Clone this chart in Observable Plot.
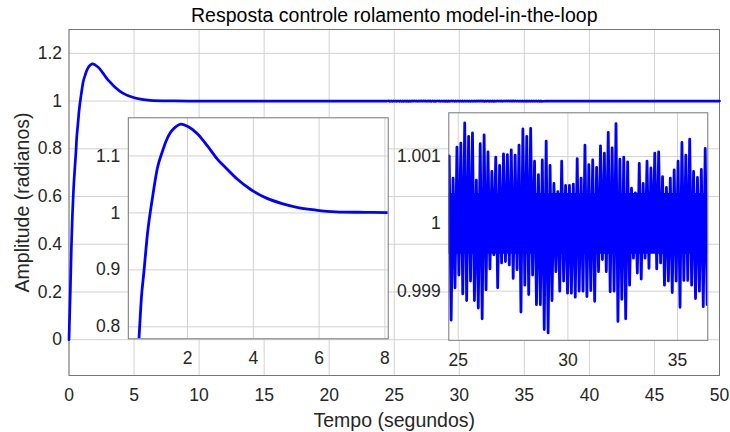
<!DOCTYPE html>
<html>
<head>
<meta charset="utf-8">
<script src="https://cdn.jsdelivr.net/npm/d3@7"></script>
<script src="https://cdn.jsdelivr.net/npm/@observablehq/plot@0.6"></script>
<style>
  html, body { margin: 0; padding: 0; background: #fff; }
  #fig { position: relative; width: 730px; height: 432px; overflow: hidden; background: #fff; }
  #fig svg { position: absolute; left: 0; top: 0; }
</style>
</head>
<body>
<div id="fig"></div>
<script>
// ---- Data -------------------------------------------------------------
// Roll-angle step response (seconds, radians): transient part
const stepT = [0, 0.05, 0.1, 0.18, 0.26, 0.34, 0.45, 0.524, 0.598, 0.677, 0.78, 0.933,
  1.085, 1.238, 1.34, 1.49, 1.64, 1.8, 2.0, 2.3, 2.6, 2.9, 3.2, 3.5, 3.9, 4.4, 4.9,
  5.4, 5.9, 6.5, 7.4, 8.1, 10, 15, 20, 24.4];
const stepY = [0, 0.1, 0.2, 0.38, 0.52, 0.62, 0.72, 0.779, 0.851, 0.898, 0.962, 1.026,
  1.079, 1.108, 1.125, 1.142, 1.151, 1.156, 1.152, 1.139, 1.118, 1.095, 1.077, 1.06, 1.042, 1.026, 1.016,
  1.009, 1.005, 1.002, 1.001, 1.0005, 1, 1, 1, 1];

// Steady-state ripple around 1 rad (peaks and troughs, in units of 1e-4 rad)
const rippleStart = 24.588;   // time of the first peak (s)
const ripplePeriod = 0.17688; // spacing between consecutive peaks (s)
const rippleHigh = [
  10.1, 6.8, 11.4, 12.0, 15.0, 13.0, 13.5, 6.5, 11.9, 13.2, 10.7, 7.8, 9.9, 8.7, 10.4, 10.3, 11.0,
  10.2, 11.7, 14.1, 13.0, 14.2, 9.3, 7.3, 9.5, 12.3, 8.7, 6.0, 4.8, 9.3, 5.7, 5.7, 5.9, 9.7,
  6.8, 11.7, 8.8, 9.5, 8.4, 11.6, 10.5, 13.6, 11.3, 14.9, 9.6, 9.9, 9.2, 5.3, 4.6, 9.0, 6.0,
  9.3, 8.3, 10.5, 10.7, 7.0, 5.4, 6.8, 8.0, 9.3, 12.1, 10.2, 12.6, 7.8, 6.9, 8.1, 11.2];
const rippleLow = [
  -14.3, -9.5, -7.6, -10.4, -11.4, -8.5, -11.4, -12.5, -14.1, -9.8, -6.7, -4.6, -9.5, -5.8, -5.6, -6.1,
  -8.1, -6.8, -13.1, -9.1, -10.5, -7.6, -12.0, -12.0, -15.7, -16.2, -11.4, -7.1, -10.0, -8.5, -10.3, -10.3, -10.9,
  -10.0, -10.0, -10.8, -9.9, -11.5, -7.1, -5.3, -7.1, -10.1, -10.0, -14.5, -11.2, -14.1, -9.1, -5.1, -7.3, -8.2,
  -5.1, -6.6, -3.4, -6.7, -5.8, -9.1, -8.5, -10.2, -8.5, -12.4, -8.4, -8.4, -9.1, -11.1, -10.0, -12.3, -12.0];

// Dense core of the ripple, where the fast oscillation fills the band (1e-4 rad)
const coreT = [24.5, 36.4];
const coreHigh = [4.5, 4.5];
const coreLow = [-4.5, -4.5];

// Tail after the ripple window
const tailT = [36.6, 40, 45, 50];
const tailY = [1, 1, 1, 1];

// Tick values
const mainXTicks = [0, 5, 10, 15, 20, 25, 30, 35, 40, 45, 50];
const mainYTicks = [0, 0.2, 0.4, 0.6, 0.8, 1, 1.2];
const zoomAXTicks = [2, 4, 6, 8];
const zoomAYTicks = [0.8, 0.9, 1, 1.1];
const zoomBXTicks = [25, 30, 35];
const zoomBYTicks = [0.999, 1, 1.001];

// Text
const titleText = "Resposta controle rolamento model-in-the-loop";
const xLabelText = "Tempo (segundos)";
const yLabelText = "Amplitude (radianos)";

// ---- Build series -----------------------------------------------------
const transient = stepT.map((t, i) => ({t, v: stepY[i]}));
const ripple = rippleHigh.flatMap((h, k) => [
  {t: rippleStart + k * ripplePeriod, v: 1 + h * 1e-4},
  {t: rippleStart + (k + 0.5) * ripplePeriod, v: 1 + rippleLow[k] * 1e-4}
]);
const tail = tailT.map((t, i) => ({t, v: tailY[i]}));
const response = [...transient, ...ripple, ...tail];
const core = coreT.map((t, i) => ({t, lo: 1 + coreLow[i] * 1e-4, hi: 1 + coreHigh[i] * 1e-4}));

// ---- Style ------------------------------------------------------------
const FONT = "'Liberation Sans', Arial, Helvetica, sans-serif";
const BLUE = "#0000ff";
const GRID = "#d2d2d2";
const BOX = "#767676";
const INK = "#262626";
const fmt = d3.format("~g");
const W = 730, H = 432;

const fig = document.getElementById("fig");

// ---- Main axes --------------------------------------------------------
const main = Plot.plot({
  width: W, height: H,
  marginLeft: 68.5, marginRight: 11, marginTop: 29, marginBottom: 57,
  x: {domain: [0, 50], label: null},
  y: {domain: [-0.15, 1.3], label: null},
  style: {fontFamily: FONT, fontSize: "17.5px", color: INK, background: "white", overflow: "visible"},
  marks: [
    Plot.gridX(mainXTicks, {stroke: GRID, strokeOpacity: 1}),
    Plot.gridY(mainYTicks, {stroke: GRID, strokeOpacity: 1}),
    Plot.frame({stroke: BOX}),
    Plot.axisX(mainXTicks, {tickSize: 0, tickPadding: 13, tickFormat: fmt, label: null}),
    Plot.axisY(mainYTicks, {tickSize: 0, tickPadding: 7, tickFormat: fmt, label: null}),
    Plot.line(response, {x: "t", y: "v", stroke: BLUE, strokeWidth: 2.7, curve: "monotone-x"}),
    Plot.text([titleText], {text: d => d, frameAnchor: "top", lineAnchor: "middle", dy: -14, fontSize: 19.5, fill: "#000"}),
    Plot.text([xLabelText], {text: d => d, frameAnchor: "bottom", lineAnchor: "middle", dy: 45, fontSize: 19.5, fill: INK}),
    Plot.text([yLabelText], {text: d => d, frameAnchor: "left", textAnchor: "middle", lineAnchor: "middle", dx: -46.5, rotate: -90, fontSize: 19.5, fill: INK})
  ]
});
fig.appendChild(main);

// ---- Inset axes (zoomed views) ----------------------------------------
function inset({left, right, top, bottom, xDomain, yDomain, xTicks, yTicks, curve, extra = []}) {
  return Plot.plot({
    width: W, height: H,
    marginLeft: left, marginRight: W - right, marginTop: top, marginBottom: H - bottom,
    x: {domain: xDomain, label: null},
    y: {domain: yDomain, label: null},
    style: {fontFamily: FONT, fontSize: "17.5px", color: INK, background: "transparent", overflow: "visible"},
    marks: [
      Plot.frame({fill: "white", stroke: "none"}),
      Plot.gridX(xTicks, {stroke: GRID, strokeOpacity: 1}),
      Plot.gridY(yTicks, {stroke: GRID, strokeOpacity: 1}),
      Plot.axisX(xTicks, {tickSize: 0, tickPadding: 13, tickFormat: fmt, label: null}),
      Plot.axisY(yTicks, {tickSize: 0, tickPadding: 8, tickFormat: fmt, label: null}),
      ...extra,
      Plot.line(response, {x: "t", y: "v", stroke: BLUE, strokeWidth: 2.8, curve, clip: true}),
      Plot.frame({stroke: BOX})
    ]
  });
}

// Overshoot detail
fig.appendChild(inset({
  left: 127.8, right: 387.7, top: 117.3, bottom: 338.3,
  xDomain: [0.2, 8.1], yDomain: [0.779, 1.167],
  xTicks: zoomAXTicks, yTicks: zoomAYTicks, curve: "monotone-x"
}));

// Steady-state ripple detail
fig.appendChild(inset({
  left: 448.3, right: 707.3, top: 112.3, bottom: 339.8,
  xDomain: [24.57, 36.38], yDomain: [0.99827, 1.00165],
  xTicks: zoomBXTicks, yTicks: zoomBYTicks, curve: "linear",
  extra: [Plot.areaY(core, {x: "t", y1: "lo", y2: "hi", fill: BLUE, clip: true})]
}));
</script>
</body>
</html>
